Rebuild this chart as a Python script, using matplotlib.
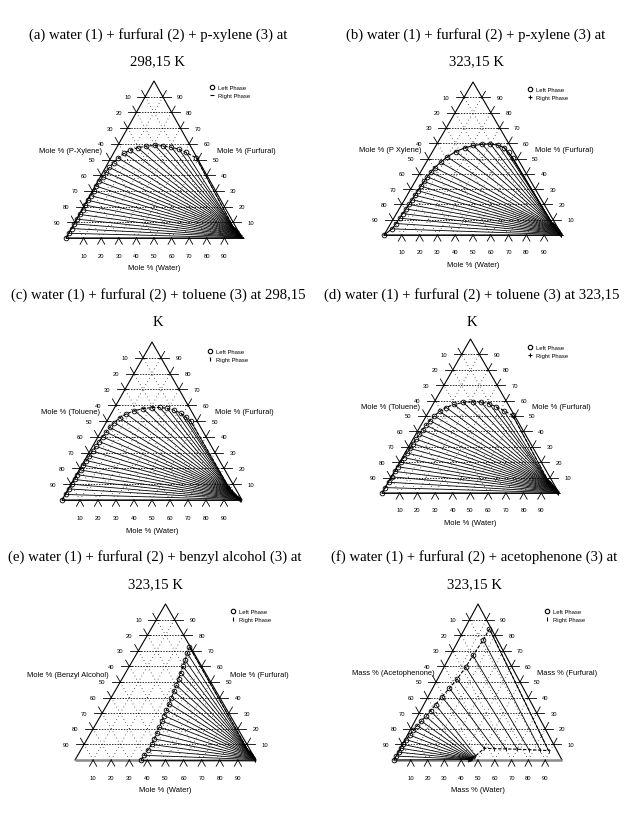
import matplotlib
matplotlib.use("Agg")
import matplotlib.pyplot as plt
from matplotlib.lines import Line2D

W, H = 628, 828

# ---------------- data (water %, furfural %) ----------------
grid_ticks = [10, 20, 30, 40, 50, 60, 70, 80, 90]

titles = [
    ("(a) water (1) + furfural (2) + p-xylene (3) at", "298,15 K"),
    ("(b) water (1) + furfural (2) + p-xylene (3) at", "323,15 K"),
    ("(c) water (1) + furfural (2) + toluene (3) at 298,15", "K"),
    ("(d) water (1) + furfural (2) + toluene (3) at 323,15", "K"),
    ("(e) water (1) + furfural (2) + benzyl alcohol (3) at", "323,15 K"),
    ("(f) water (1) + furfural (2) + acetophenone (3) at", "323,15 K"),
]
left_labels = ["Mole % (P-Xylene)", "Mole % (P Xylene)", "Mole % (Toluene)",
               "Mole % (Toluene)", "Mole % (Benzyl Alcohol)", "Mass % (Acetophenone)"]
right_labels = ["Mole % (Furfural)"] * 5 + ["Mass % (Furfural)"]
bottom_labels = ["Mole % (Water)"] * 5 + ["Mass % (Water)"]
legend_labels = ["Left Phase", "Right Phase"]

# (a) p-xylene 298.15 K
a_left_water = [0.0, 0.1, 0.2, 0.2, 0.3, 0.3, 0.4, 0.4, 0.5, 0.6, 0.7, 0.8, 1.0, 1.3,
                1.7, 2.2, 3.0, 4.2, 6.0, 8.5, 12.0, 16.0, 21.0, 26.0, 31.0, 36.0, 41.0, 48.5]
a_left_furf = [0.0, 3.0, 6.0, 9.0, 12.0, 15.0, 18.0, 21.0, 24.0, 27.0, 30.0, 33.0, 36.0, 39.0,
               42.0, 45.0, 48.0, 51.0, 54.0, 56.0, 57.5, 58.5, 59.0, 58.6, 57.8, 56.5, 54.5, 51.0]
a_right_water = [99.8, 99.5, 99.2, 98.9, 98.7, 98.4, 98.1, 97.8, 97.5, 97.2, 96.9, 96.6, 96.3, 96.0,
                 95.7, 95.4, 95.1, 94.8, 94.5, 94.2, 93.9, 93.6, 93.3, 93.0, 92.7, 92.4, 92.1, 91.8]
a_right_furf = [0.0, 0.2, 0.5, 0.7, 0.9, 1.2, 1.4, 1.7, 1.9, 2.2, 2.4, 2.7, 2.9, 3.2,
                3.4, 3.7, 3.9, 4.2, 4.4, 4.7, 4.9, 5.2, 5.4, 5.7, 5.9, 6.2, 6.4, 6.7]

# (b) p-xylene 323.15 K
b_left_water = [0.0, 2.5, 3.0, 3.3, 3.5, 3.8, 4.0, 4.2, 4.3, 4.5, 4.7, 5.0, 5.3, 5.8,
                6.5, 8.0, 10.0, 13.0, 17.0, 21.0, 25.5, 30.0, 34.5, 39.0, 43.0, 47.0]
b_left_furf = [0.0, 4.0, 7.5, 11.0, 14.0, 17.0, 20.0, 23.0, 26.0, 29.0, 32.0, 35.0, 38.0, 41.0,
               44.0, 47.5, 51.0, 54.5, 57.0, 58.5, 59.3, 59.5, 58.8, 57.0, 54.0, 50.5]
b_right_water = [99.6, 99.2, 98.8, 98.5, 98.1, 97.8, 97.4, 97.1, 96.7, 96.4, 96.0, 95.7, 95.3,
                 95.0, 94.6, 94.3, 93.9, 93.6, 93.2, 92.9, 92.5, 92.2, 91.8, 91.5, 91.1, 90.8]
b_right_furf = [0.0, 0.3, 0.6, 0.9, 1.2, 1.5, 1.8, 2.1, 2.4, 2.7, 3.0, 3.3, 3.6,
                3.9, 4.2, 4.5, 4.8, 5.1, 5.4, 5.7, 6.0, 6.3, 6.6, 6.9, 7.2, 7.5]

# (c) toluene 298.15 K
c_left_water = [0.0, 0.2, 0.3, 0.4, 0.5, 0.6, 0.8, 0.9, 1.0, 1.2, 1.5, 1.8, 2.1, 2.5,
                3.0, 3.5, 4.5, 6.0, 8.5, 12.0, 16.0, 20.5, 25.0, 29.5, 34.0, 38.5, 42.5, 46.5]
c_left_furf = [0.0, 3.5, 7.0, 10.0, 13.0, 16.0, 19.0, 22.0, 25.0, 28.0, 31.0, 34.0, 37.0, 40.0,
               43.0, 46.0, 49.0, 52.0, 54.5, 56.5, 57.8, 58.5, 58.6, 58.0, 56.8, 55.0, 52.5, 50.0]
c_right_water = [99.5, 99.0, 98.5, 98.0, 97.6, 97.1, 96.6, 96.2, 95.7, 95.3, 94.8, 94.4, 93.9, 93.5,
                 93.1, 92.7, 92.3, 91.9, 91.5, 91.1, 90.8, 90.4, 90.1, 89.8, 89.5, 89.2, 88.9, 88.6]
c_right_furf = [0.0, 0.3, 0.6, 0.9, 1.2, 1.5, 1.8, 2.1, 2.4, 2.7, 3.0, 3.3, 3.6, 3.9,
                4.2, 4.5, 4.8, 5.1, 5.4, 5.7, 6.0, 6.3, 6.6, 6.9, 7.2, 7.5, 7.8, 8.1]

# (d) toluene 323.15 K
d_left_water = [0.0, 0.1, 0.2, 0.3, 0.4, 0.5, 0.6, 0.8, 1.0, 1.2, 1.4, 1.7, 2.0, 2.4,
                2.9, 3.5, 4.5, 6.0, 8.5, 12.0, 16.5, 21.5, 26.5, 31.5, 36.5, 42.0, 48.5]
d_left_furf = [0.0, 3.5, 7.0, 10.5, 14.0, 17.0, 20.0, 23.0, 26.0, 29.0, 32.0, 35.0, 38.0, 41.0,
               44.0, 47.0, 50.0, 53.0, 55.5, 57.5, 58.8, 59.3, 59.0, 58.0, 56.0, 53.5, 50.5]
d_right_water = [99.6, 99.2, 98.8, 98.4, 98.0, 97.6, 97.2, 96.9, 96.5, 96.1, 95.7, 95.3, 95.0, 94.6,
                 94.2, 93.8, 93.5, 93.1, 92.7, 92.4, 92.0, 91.7, 91.3, 91.0, 90.6, 90.3, 90.0]
d_right_furf = [0.0, 0.3, 0.6, 0.9, 1.2, 1.5, 1.8, 2.1, 2.4, 2.7, 3.0, 3.3, 3.6, 3.9,
                4.2, 4.5, 4.8, 5.1, 5.4, 5.7, 6.0, 6.3, 6.6, 6.9, 7.2, 7.5, 7.8]

# (e) benzyl alcohol 323.15 K
e_left_water = [36.5, 36.6, 37.0, 37.3, 37.0, 36.6, 36.0, 35.5, 35.0, 34.5,
                34.0, 33.3, 32.6, 32.0, 31.2, 30.5, 29.6, 28.8, 27.8, 27.0]
e_left_furf = [0.0, 3.0, 6.5, 10.0, 13.5, 17.0, 21.0, 25.0, 28.5, 32.0,
               36.0, 40.0, 44.0, 48.0, 52.0, 56.0, 60.0, 64.0, 68.5, 72.5]
e_right_water = [99.7, 99.3, 99.0, 98.6, 98.3, 97.9, 97.6, 97.2, 96.9, 96.5,
                 96.2, 95.8, 95.5, 95.1, 94.8, 94.4, 94.1, 93.7, 93.4, 93.0]
e_right_furf = [0.0, 0.3, 0.6, 0.9, 1.2, 1.5, 1.8, 2.1, 2.4, 2.7,
                3.0, 3.3, 3.6, 3.9, 4.2, 4.5, 4.8, 5.1, 5.4, 5.7]

# (f) acetophenone 323.15 K (mass %)
f_left_water = [0.0, 0.2, 0.3, 0.4, 0.5, 0.8, 1.3, 2.0, 2.8, 3.8,
                5.0, 6.0, 7.0, 8.2, 10.0, 11.6, 12.9, 13.5, 14.6, 14.8]
f_left_furf = [0.0, 2.5, 5.0, 7.5, 10.0, 13.0, 16.0, 19.0, 22.0, 25.0,
               28.0, 31.5, 35.5, 40.5, 46.0, 52.0, 59.5, 67.0, 77.0, 84.0]
f_right_water = [44.0, 44.2, 44.4, 44.6, 44.8, 45.0, 45.2, 45.4, 45.6, 45.9,
                 46.2, 46.6, 47.2, 50.0, 56.0, 63.0, 70.0, 77.0, 84.0, 89.0]
f_right_furf = [0.3, 0.4, 0.5, 0.6, 0.7, 0.8, 0.9, 1.0, 1.2, 1.4,
                1.7, 2.0, 2.6, 7.5, 7.3, 7.1, 6.9, 6.6, 6.3, 6.0]

left_water = [a_left_water, b_left_water, c_left_water, d_left_water, e_left_water, f_left_water]
left_furf = [a_left_furf, b_left_furf, c_left_furf, d_left_furf, e_left_furf, f_left_furf]
right_water = [a_right_water, b_right_water, c_right_water, d_right_water, e_right_water, f_right_water]
right_furf = [a_right_furf, b_right_furf, c_right_furf, d_right_furf, e_right_furf, f_right_furf]
right_markers = ['_', '+', '|', '+', '|', '|']

# ---------------- layout (pixels) ----------------
# triangle: left x, right x, base y, apex y
tri_px = [(66, 242, 239, 82), (384, 562, 236, 83), (62, 242, 501, 343),
          (382, 559, 494, 340), (75, 256, 761, 605), (394, 562, 761, 605)]
title_px = [(158, 35, 62), (476, 35, 62), (158, 295, 323),
            (472, 295, 323), (155, 557, 585), (474, 557, 585)]
legend_px = [(210, 86), (528, 88), (208, 350), (528, 346), (231, 610), (545, 610)]
side_label_X = [(20.5, 86), (21, 85), (21, 85), (21.5, 85), (18.5, 85.5), (24, 85)]
side_label_Y = [56, 56, 56, 56, 55, 56]
binodal_styles = [(0, (3, 1.5)), "-", (0, (3, 1.5)), (0, (3, 1.5)), (0, (3, 1.5)), (0, (3, 1.5))]

serif = ["Liberation Serif", "DejaVu Serif"]
sans = ["Liberation Sans", "DejaVu Sans"]

fig = plt.figure(figsize=(W / 100, H / 100), dpi=100)
fig.patch.set_facecolor("white")


def tx(w, f):
    return w + f / 2.0


for i in range(6):
    lx, rx, by, ty = tri_px[i]
    ax = fig.add_axes([lx / W, 1 - by / H, (rx - lx) / W, (by - ty) / H])
    ax.set_xlim(0, 100)
    ax.set_ylim(0, 100)
    ax.axis("off")

    # titles
    cx, y1, y2 = title_px[i]
    fig.text(cx / W, 1 - y1 / H, titles[i][0], ha="center", va="center",
             fontsize=10.6, family=serif)
    fig.text(cx / W, 1 - y2 / H, titles[i][1], ha="center", va="center",
             fontsize=10.6, family=serif)

    # grid
    for k in grid_ticks:
        ax.plot([tx(0, k), tx(100 - k, k)], [k, k], ls=(0, (2, 1.6)), lw=0.55, color="k")
        ax.plot([tx(k, 0), tx(k, 100 - k)], [0, 100 - k], ls=(0, (0.8, 3.5)), lw=0.6, color="k")
        ax.plot([tx(100 - k, 0), tx(0, 100 - k)], [0, 100 - k], ls=(0, (0.8, 3.5)), lw=0.6, color="k")

    # frame
    ax.plot([tx(0, 0), tx(0, 100), tx(100, 0)], [0, 100, 0], color="k", lw=0.8,
            clip_on=False)
    if i >= 4:
        ax.plot([0, 100], [0, 0], color="#8a8a8a", lw=1.8, clip_on=False, solid_capstyle="butt")
    else:
        ax.plot([0, 100], [0, 0], color="#404040", lw=1.1, clip_on=False, solid_capstyle="butt")

    # ticks and tick labels
    for k in grid_ticks:
        # bottom (water)
        ax.plot([tx(k, 0), tx(k, -4)], [0, -4], color="k", lw=0.6, clip_on=False)
        ax.plot([tx(k, 0), tx(k + 4, -4)], [0, -4], color="k", lw=0.6, clip_on=False)
        ax.text(tx(k, 0), -11, str(k), ha="center", va="center", fontsize=4.2,
                family=sans, clip_on=False)
        # left (solvent): point w=0, f=100-k
        F = 100 - k
        ax.plot([tx(0, F) + 1.5, tx(0, F) - 4.5], [F, F], color="k", lw=0.6, clip_on=False)
        ax.plot([tx(0, F), tx(-4, F + 4)], [F, F + 4], color="k", lw=0.6, clip_on=False)
        ax.text(tx(0, F) - 10, F, str(k), ha="center", va="center", fontsize=4.2,
                family=sans, clip_on=False)
        # right (furfural): point w=100-k, f=k
        ax.plot([tx(100 - k, k) - 1.5, tx(100 - k, k) + 4.5], [k, k], color="k", lw=0.6,
                clip_on=False)
        ax.plot([tx(100 - k, k), tx(100 - k, k + 4)], [k, k + 4], color="k", lw=0.6,
                clip_on=False)
        ax.text(tx(100 - k, k) + 10, k, str(k), ha="center", va="center", fontsize=4.2,
                family=sans, clip_on=False)

    # axis titles
    ax.text(50, -19, bottom_labels[i], ha="center", va="center", fontsize=5.4,
            family=sans, clip_on=False)
    ax.text(side_label_X[i][0], side_label_Y[i], left_labels[i], ha="right", va="center",
            fontsize=5.4, family=sans, clip_on=False)
    ax.text(side_label_X[i][1], side_label_Y[i], right_labels[i], ha="left", va="center",
            fontsize=5.4, family=sans, clip_on=False)

    lw_, lf_ = left_water[i], left_furf[i]
    rw_, rf_ = right_water[i], right_furf[i]

    # tie lines
    for j in range(len(lw_)):
        ax.plot([tx(lw_[j], lf_[j]), tx(rw_[j], rf_[j])], [lf_[j], rf_[j]],
                color="k", lw=0.6, clip_on=False)

    # binodal curve
    bx = [tx(w, f) for w, f in zip(lw_, lf_)] + [tx(w, f) for w, f in zip(rw_[::-1], rf_[::-1])]
    by_ = list(lf_) + list(rf_[::-1])
    ax.plot(bx, by_, color="k", lw=0.8, ls=binodal_styles[i], clip_on=False)

    # phase points
    ax.plot([tx(w, f) for w, f in zip(lw_, lf_)], lf_, ls="none", marker="o", ms=3.4,
            mfc="none", mec="k", mew=0.6, clip_on=False)
    ax.plot([tx(w, f) for w, f in zip(rw_, rf_)], rf_, ls="none", marker=right_markers[i],
            ms=3.0, mec="k", mew=0.6, clip_on=False)

    # legend
    handles = [Line2D([], [], ls="none", marker="o", ms=3.2, mfc="none", mec="k", mew=0.8),
               Line2D([], [], ls="none", marker=right_markers[i], ms=3.4, mec="k", mew=0.8)]
    lgx, lgy = legend_px[i]
    ax.legend(handles, legend_labels, loc="upper left", bbox_to_anchor=(lgx / W, 1 - lgy / H),
              bbox_transform=fig.transFigure, frameon=False, prop={"family": sans, "size": 4.2},
              handlelength=0.6, handletextpad=0.8, labelspacing=0.55, borderpad=0,
              borderaxespad=0)

fig.savefig("out.png", dpi=100, facecolor="white")
